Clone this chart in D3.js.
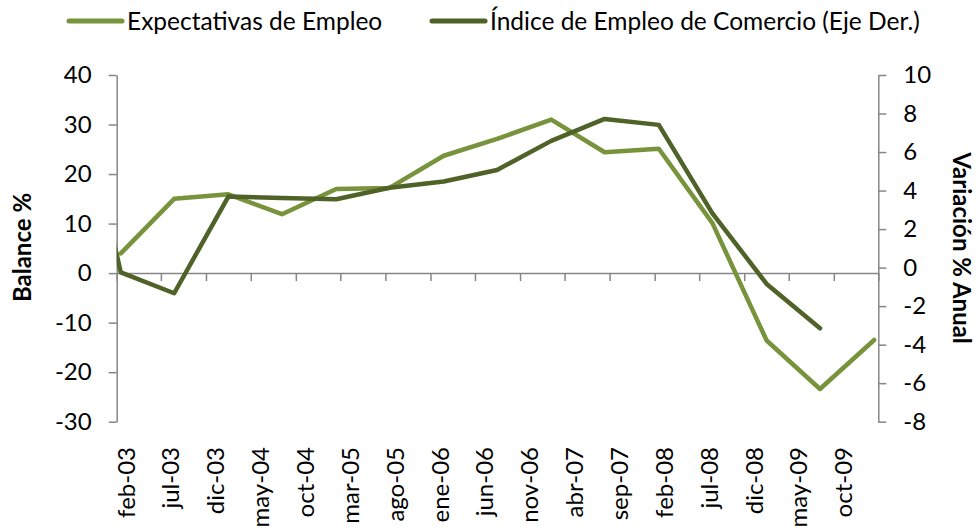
<!DOCTYPE html>
<html>
<head>
<meta charset="utf-8">
<script src="https://cdn.jsdelivr.net/npm/d3@7"></script>
<style>
  body { margin: 0; background: #fff; }
  svg text { font-family: Lato, "Noto Sans", sans-serif; fill: #000; }
</style>
</head>
<body>
<div id="grafico"></div>
<script>
// --- datos ---
// Expectativas de Empleo (eje izq., balance %), datos semestrales
var fechasExpectativas = ["2003-02-15","2003-08-15","2004-02-15","2004-08-15","2005-02-15","2005-08-15",
  "2006-02-15","2006-08-15","2007-02-15","2007-08-15","2008-02-15","2008-08-15","2009-02-15","2009-08-15","2010-02-15"];
var valoresExpectativas = [4.0, 15.0, 15.9, 11.9, 17.0, 17.2, 23.7, 27.1, 31.0, 24.4, 25.1, 10.1, -13.6, -23.4, -13.5];

// Indice de Empleo de Comercio (eje der., variacion % anual)
// el primer punto (ago-02) queda fuera del eje y se recorta
var fechasIndice = ["2002-08-15","2003-02-15","2003-08-15","2004-02-15","2004-08-15","2005-02-15","2005-08-15",
  "2006-02-15","2006-08-15","2007-02-15","2007-08-15","2008-02-15","2008-08-15","2009-02-15","2009-08-15"];
var valoresIndice = [12.0, -0.25, -1.33, 3.69, 3.62, 3.55, 4.15, 4.47, 5.07, 6.58, 7.72, 7.41, 2.82, -0.85, -3.15];

var etiquetasX = ["feb-03","jul-03","dic-03","may-04","oct-04","mar-05","ago-05","ene-06","jun-06",
  "nov-06","abr-07","sep-07","feb-08","jul-08","dic-08","may-09","oct-09"];
var ticksIzq = [-30, -20, -10, 0, 10, 20, 30, 40];
var ticksDer = [-8, -6, -4, -2, 0, 2, 4, 6, 8, 10];

var colorClaro = "#77933C";
var colorOscuro = "#4F6228";
var gris = "#868686";

var w = 978, h = 527;
var izq = 116.7, der = 878.3, arriba = 75, abajo = 421.7;

var svg = d3.select("#grafico")
  .append("svg")
  .attr("width", w)
  .attr("height", h);

var parse = d3.timeParse("%Y-%m-%d");
var inicio = new Date(2003, 1, 1);
var fin = new Date(2010, 2, 1);

var x = d3.scaleTime().domain([inicio, fin]).range([izq, der]);
var yIzq = d3.scaleLinear().domain([-30, 40]).range([abajo, arriba]);
var yDer = d3.scaleLinear().domain([-8, 10]).range([abajo, arriba]);

// fechas de las marcas: cada 5 meses desde feb-03
var fechasTicks = etiquetasX.map((e, i) => d3.timeMonth.offset(inicio, 5 * i));

svg.append("defs").append("clipPath")
  .attr("id", "recorte")
  .append("rect")
  .attr("x", izq).attr("y", arriba)
  .attr("width", der - izq).attr("height", abajo - arriba);

// guion normal en los negativos, como en Excel
var fmt = d => String(d);

// eje izquierdo
svg.append("g")
  .attr("transform", `translate(${izq},0)`)
  .call(d3.axisLeft(yIzq).tickValues(ticksIzq).tickFormat(fmt).tickSize(8).tickSizeOuter(0).tickPadding(17))
  .call(g => g.selectAll("path, line").attr("stroke", gris).attr("stroke-width", 1.5))
  .call(g => g.selectAll("text").attr("font-size", 24).attr("font-family", null));

// eje derecho
svg.append("g")
  .attr("transform", `translate(${der},0)`)
  .call(d3.axisRight(yDer).tickValues(ticksDer).tickFormat(fmt).tickSize(8).tickSizeOuter(0).tickPadding(17))
  .call(g => g.selectAll("path, line").attr("stroke", gris).attr("stroke-width", 1.5))
  .call(g => g.selectAll("text").attr("font-size", 24).attr("font-family", null));

// eje x, cruza en 0 del eje izquierdo
svg.append("g")
  .attr("transform", `translate(0,${yIzq(0)})`)
  .call(d3.axisBottom(x).tickValues(fechasTicks.concat([fin])).tickSize(8).tickSizeOuter(0).tickFormat(""))
  .call(g => g.selectAll("path, line").attr("stroke", gris).attr("stroke-width", 1.5));

// etiquetas del eje x (abajo, giradas)
svg.append("g")
  .selectAll("text")
  .data(etiquetasX)
  .enter()
  .append("text")
    .attr("transform", (d, i) => `translate(${x(fechasTicks[i]) + 10},447) rotate(-90)`)
    .attr("text-anchor", "end")
    .attr("dy", "0.35em")
    .attr("font-size", 24)
    .text(d => d);

// lineas
var lineaIzq = d3.line().x(d => x(d[0])).y(d => yIzq(d[1]));
var lineaDer = d3.line().x(d => x(d[0])).y(d => yDer(d[1]));

var series = svg.append("g").attr("clip-path", "url(#recorte)");

series.append("path")
  .datum(fechasExpectativas.map((f, i) => [parse(f), valoresExpectativas[i]]))
  .attr("fill", "none")
  .attr("stroke", colorClaro)
  .attr("stroke-width", 4.5)
  .attr("stroke-linejoin", "round")
  .attr("stroke-linecap", "round")
  .attr("d", lineaIzq);

series.append("path")
  .datum(fechasIndice.map((f, i) => [parse(f), valoresIndice[i]]))
  .attr("fill", "none")
  .attr("stroke", colorOscuro)
  .attr("stroke-width", 4.5)
  .attr("stroke-linejoin", "round")
  .attr("stroke-linecap", "round")
  .attr("d", lineaDer);

// titulos de ejes
svg.append("text")
  .attr("transform", "translate(31,247.5) rotate(-90)")
  .attr("text-anchor", "middle")
  .attr("font-size", 24)
  .attr("font-weight", "bold")
  .text("Balance %");

svg.append("text")
  .attr("transform", "translate(953,248) rotate(90)")
  .attr("text-anchor", "middle")
  .attr("font-size", 24)
  .attr("font-weight", "bold")
  .text("Variación % Anual");

// leyenda
var leyenda = [
  {nombre: "Expectativas de Empleo", color: colorClaro, x0: 69},
  {nombre: "Índice de Empleo de Comercio (Eje Der.)", color: colorOscuro, x0: 432}
];
var gl = svg.append("g").selectAll("g").data(leyenda).enter().append("g")
  .attr("transform", d => `translate(${d.x0},21)`);
gl.append("line")
  .attr("x1", 0).attr("x2", 53)
  .attr("stroke", d => d.color)
  .attr("stroke-width", 5)
  .attr("stroke-linecap", "round");
gl.append("text")
  .attr("x", 58)
  .attr("dy", "0.35em")
  .attr("font-size", 24.5)
  .text(d => d.nombre);
</script>
</body>
</html>
